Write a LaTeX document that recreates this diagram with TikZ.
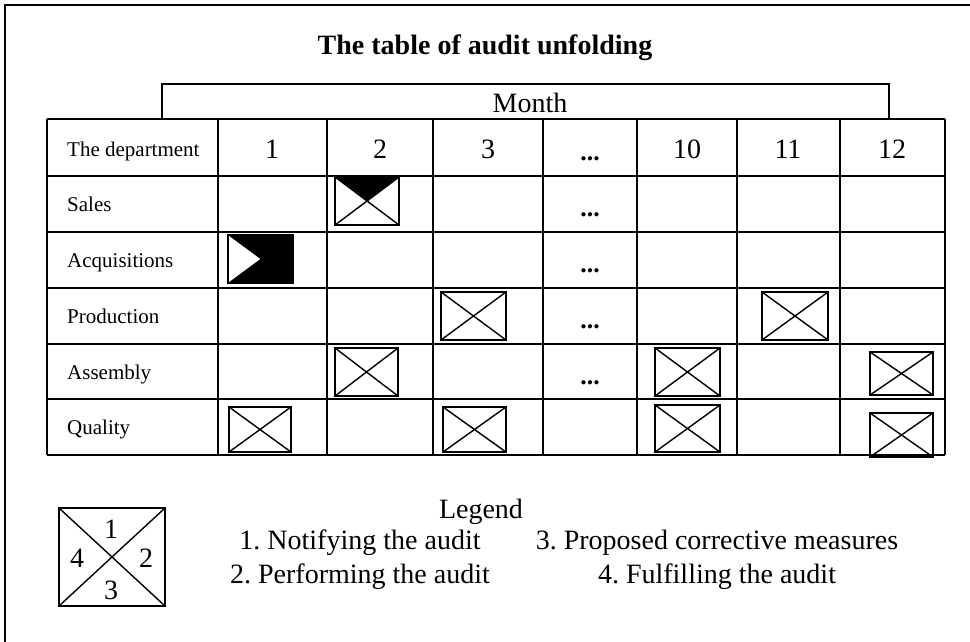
\documentclass[tikz,border=0pt]{standalone}
\usepackage{fontspec}
\setmainfont{Liberation Serif}
\frenchspacing
\newcommand\mkbox[4]{%
  \draw[markline] (#1,#2) rectangle (#3,#4);
  \draw[xline] (#1,#2) -- (#3,#4) (#1,#4) -- (#3,#2);}
\begin{document}
\begin{tikzpicture}[x=1pt,y=-1pt,
  gridline/.style={line width=1.8pt},
  markline/.style={line width=1.6pt},
  xline/.style={line width=1.4pt},
  big/.style={font=\fontsize{28}{32}\selectfont, inner sep=0pt, anchor=base},
  lbl/.style={font=\fontsize{21}{25}\selectfont, inner sep=0pt, anchor=base west},
  ttl/.style={font=\fontsize{28}{32}\selectfont\bfseries, inner sep=0pt, anchor=base},
  dots/.style={font=\fontsize{26}{30}\selectfont\bfseries, inner sep=0pt, anchor=base}]
\useasboundingbox (0,0) rectangle (970,642);
% outer frame
\draw[line width=1.6pt] (5,642) -- (5,5) -- (970,5);
% title
\node[ttl] (title) at (485,55) {The table of audit unfolding};
% month box
\draw[gridline] (162,119) -- (162,84) -- (889,84) -- (889,119);
\node[big] (month) at (530,113) {Month};
% table grid
\foreach \y in {119,176,232,288,344,399,455} \draw[gridline] (47,\y) -- (945,\y);
\foreach \x in {47,218,327,433,543,637,737,840,945} \draw[gridline] (\x,119) -- (\x,455);
% header
\node[lbl] (dep) at (67,157) {The department};
\node[big] (m1) at (272,158) {1};
\node[big] (m2) at (380,158) {2};
\node[big] (m3) at (488,158) {3};
\node[dots] (mdots) at (590,160) {...};
\node[big] (m10) at (687,158) {10};
\node[big] (m11) at (788,158) {11};
\node[big] (m12) at (892,158) {12};
% row labels
\node[lbl] (r1) at (67,211) {Sales};
\node[lbl] (r2) at (67,267) {Acquisitions};
\node[lbl] (r3) at (67,323) {Production};
\node[lbl] (r4) at (67,379) {Assembly};
\node[lbl] (r5) at (67,434) {Quality};
\foreach \y/\n in {216/a,272/b,328/c,384/d}
  \node[dots] (d\n) at (590,\y) {...};
% marks
\fill (335,177) -- (399,177) -- (367,201) -- cycle;
\mkbox{335}{177}{399}{225}
\fill (228,235) -- (293,235) -- (293,283) -- (228,283) -- (260.5,259) -- cycle;
\draw[markline] (228,235) rectangle (293,283);
\mkbox{441}{292}{506}{340}
\mkbox{762}{292}{828}{340}
\mkbox{335}{348}{398}{396}
\mkbox{655}{348}{720}{396}
\mkbox{870}{352}{933}{395}
\mkbox{229}{407}{291}{452}
\mkbox{443}{407}{506}{452}
\mkbox{655}{405}{720}{452}
\mkbox{870}{413}{933}{457}
% legend box
\mkbox{59}{508}{165}{606}
\node[big] (k1) at (111,538) {1};
\node[big] (k2) at (146,567) {2};
\node[big] (k3) at (111,599) {3};
\node[big] (k4) at (77,567) {4};
% legend text
\node[big] (leg) at (481,518) {Legend};
\node[big] (l1) at (360,549) {1. Notifying the audit};
\node[big] (l2) at (360,583) {2. Performing the audit};
\node[big] (l3) at (717,549) {3. Proposed corrective measures};
\node[big] (l4) at (717,583) {4. Fulfilling the audit};
\end{tikzpicture}
\end{document}
